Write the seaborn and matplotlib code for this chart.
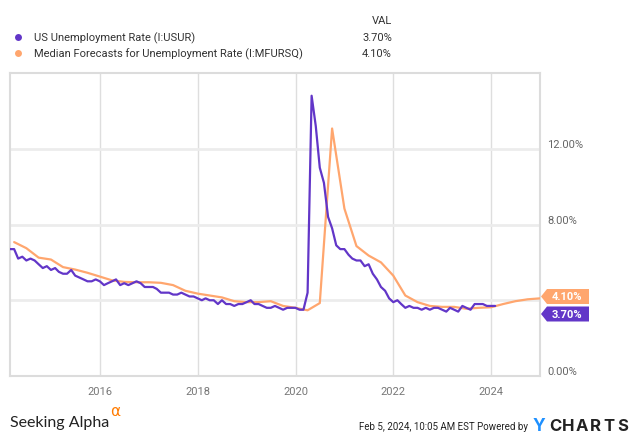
import numpy as np
import pandas as pd
import matplotlib
matplotlib.use("Agg")
import matplotlib.pyplot as plt
import matplotlib.dates as mdates
from matplotlib.lines import Line2D
from matplotlib.patches import Polygon
import seaborn as sns

# ---------------- data ----------------
ur_start = "2014-02-28"
us_unemployment = [
    6.7, 6.7, 6.2, 6.3, 6.1, 6.2, 6.1, 5.9, 5.7, 5.8, 5.6,            # 2014 Feb-Dec
    5.7, 5.5, 5.4, 5.4, 5.6, 5.3, 5.2, 5.1, 5.0, 5.0, 5.1, 5.0,       # 2015
    4.8, 4.9, 5.0, 5.1, 4.8, 4.9, 4.8, 4.9, 5.0, 4.9, 4.7, 4.7,       # 2016
    4.7, 4.6, 4.4, 4.4, 4.4, 4.3, 4.3, 4.4, 4.3, 4.2, 4.2, 4.1,       # 2017
    4.0, 4.1, 4.0, 4.0, 3.8, 4.0, 3.8, 3.8, 3.7, 3.8, 3.8, 3.9,       # 2018
    4.0, 3.8, 3.8, 3.7, 3.6, 3.6, 3.7, 3.6, 3.5, 3.6, 3.6, 3.6,       # 2019
    3.5, 3.5, 4.4, 14.8, 13.2, 11.0, 10.2, 8.4, 7.8, 6.9, 6.7, 6.7,   # 2020
    6.4, 6.2, 6.1, 6.1, 5.8, 5.9, 5.4, 5.1, 4.7, 4.5, 4.1, 3.9,       # 2021
    4.0, 3.8, 3.6, 3.7, 3.6, 3.6, 3.5, 3.6, 3.5, 3.6, 3.6, 3.5,       # 2022
    3.4, 3.6, 3.5, 3.4, 3.7, 3.6, 3.5, 3.8, 3.8, 3.8, 3.7, 3.7,       # 2023
    3.7,                                                               # 2024 Jan
]
fc_start = "2014-03-31"
median_forecast = [
    7.07, 6.75, 6.25, 6.15,
    5.75, 5.62, 5.45, 5.25,
    5.05, 4.97, 4.95, 4.95,
    4.92, 4.80, 4.50, 4.35,
    4.25, 4.15, 3.95, 3.90,
    3.90, 3.95, 3.70, 3.60,
    3.47, 3.85, 13.07, 8.84,
    6.86, 6.36, 6.00, 5.30,
    4.25, 3.90, 3.70, 3.65,
    3.65, 3.55, 3.60, 3.63,
    3.80, 3.95, 4.05, 4.10,
]
series_names = ["US Unemployment Rate (I:USUR)",
                "Median Forecasts for Unemployment Rate (I:MFURSQ)"]
last_values = ["3.70%", "4.10%"]
y_ticks = [0, 4, 8, 12]
y_tick_labels = ["0.00%", "", "8.00%", "12.00%"]

PURPLE = "#6236c8"
ORANGE = "#ffa66e"

ur_dates = pd.date_range(ur_start, periods=len(us_unemployment), freq="ME")
fc_dates = pd.date_range(fc_start, periods=len(median_forecast), freq="QE")
df = pd.concat([
    pd.DataFrame({"date": ur_dates, "value": us_unemployment, "series": series_names[0]}),
    pd.DataFrame({"date": fc_dates, "value": median_forecast, "series": series_names[1]}),
])

# ---------------- figure ----------------
sns.set_style("white")
plt.rcParams["font.family"] = ["Roboto", "DejaVu Sans"]

W, H = 635, 439
fig = plt.figure(figsize=(W / 100, H / 100), dpi=100)
L, R, T, B = 10, 540, 74, 377
ax = fig.add_axes([L / W, 1 - B / H, (R - L) / W, (B - T) / H])

def fx(x):
    return x / W

def fy(y):
    return 1 - y / H

sns.lineplot(data=df, x="date", y="value", hue="series",
             palette={series_names[0]: PURPLE, series_names[1]: ORANGE},
             hue_order=[series_names[1], series_names[0]],
             linewidth=1.6, legend=False, ax=ax, zorder=3)

ax.set_xlim(ur_dates[0], fc_dates[-1])
ax.set_ylim(0, 16)
ax.set_xlabel("")
ax.set_ylabel("")

# grid
ax.set_yticks(y_ticks)
ax.set_yticklabels(y_tick_labels)
ax.xaxis.set_major_locator(mdates.YearLocator(2))
ax.xaxis.set_major_formatter(mdates.DateFormatter("%Y"))
for yv in y_ticks[1:]:
    ax.axhline(yv, color="#ececec", lw=2.0, zorder=1)
ax.grid(axis="x", color="#dedede", lw=1.0, zorder=1)
ax.grid(axis="y", visible=False)

for s in ax.spines.values():
    s.set_color("#dcdcdc")
    s.set_linewidth(1.5)

ax.yaxis.tick_right()
ax.tick_params(axis="y", length=0, pad=5, labelsize=8, labelcolor="#666666")
ax.tick_params(axis="x", length=0, pad=7, labelsize=8, labelcolor="#777777")
for lab in ax.get_yticklabels():
    lab.set_verticalalignment("bottom")

# ---------------- legend header ----------------
fig.text(fx(392), fy(21), "VAL", ha="right", va="center", fontsize=8, color="#333333")
rows = [(38, PURPLE, series_names[0], last_values[0]),
        (54, ORANGE, series_names[1], last_values[1])]
for y, c, name, val in rows:
    fig.add_artist(Line2D([fx(18)], [fy(y)], marker="o", markersize=5,
                          color=c, markeredgewidth=0, transform=fig.transFigure))
    fig.text(fx(34), fy(y), name, ha="left", va="center", fontsize=8, color="#333333")
    fig.text(fx(392), fy(y), val, ha="right", va="center", fontsize=8, color="#333333")

# ---------------- value tags ----------------
def tag(yc, h, color, text):
    y0, y1 = yc - h / 2, yc + h / 2
    pts = [(541, yc), (547, y0), (589, y0), (589, y1), (547, y1)]
    fig.add_artist(Polygon([(fx(px), fy(py)) for px, py in pts], closed=True,
                           facecolor=color, edgecolor="none", transform=fig.transFigure))
    fig.text(fx(567), fy(yc), text, ha="center", va="center", fontsize=8,
             fontweight="bold", color="white")

tag(297.5, 15, ORANGE, last_values[1])
tag(315, 15, PURPLE, last_values[0])

# ---------------- footer ----------------
fig.text(fx(10), fy(427), "Seeking Alpha", ha="left", va="baseline",
         fontsize=11.5, color="#222222", family=["Lato", "DejaVu Sans"])
fig.text(fx(110), fy(416), "α", ha="left", va="baseline",
         fontsize=11, color="#ff7b00", family=["DejaVu Sans"])
fig.text(fx(528), fy(427), "Feb 5, 2024, 10:05 AM EST Powered by", ha="right",
         va="center", fontsize=7, color="#222222")
fig.text(fx(539), fy(427), "Y", ha="center", va="center", fontsize=12.5,
         fontweight="bold", color="#1e90ff", family=["Inter", "DejaVu Sans"])
for i, ch in enumerate("CHARTS"):
    fig.text(fx(555 + i * 13.5), fy(427), ch, ha="center", va="center", fontsize=12,
             fontweight="bold", color="#222222", family=["Inter", "DejaVu Sans"])

fig.savefig("out.png", dpi=100)
